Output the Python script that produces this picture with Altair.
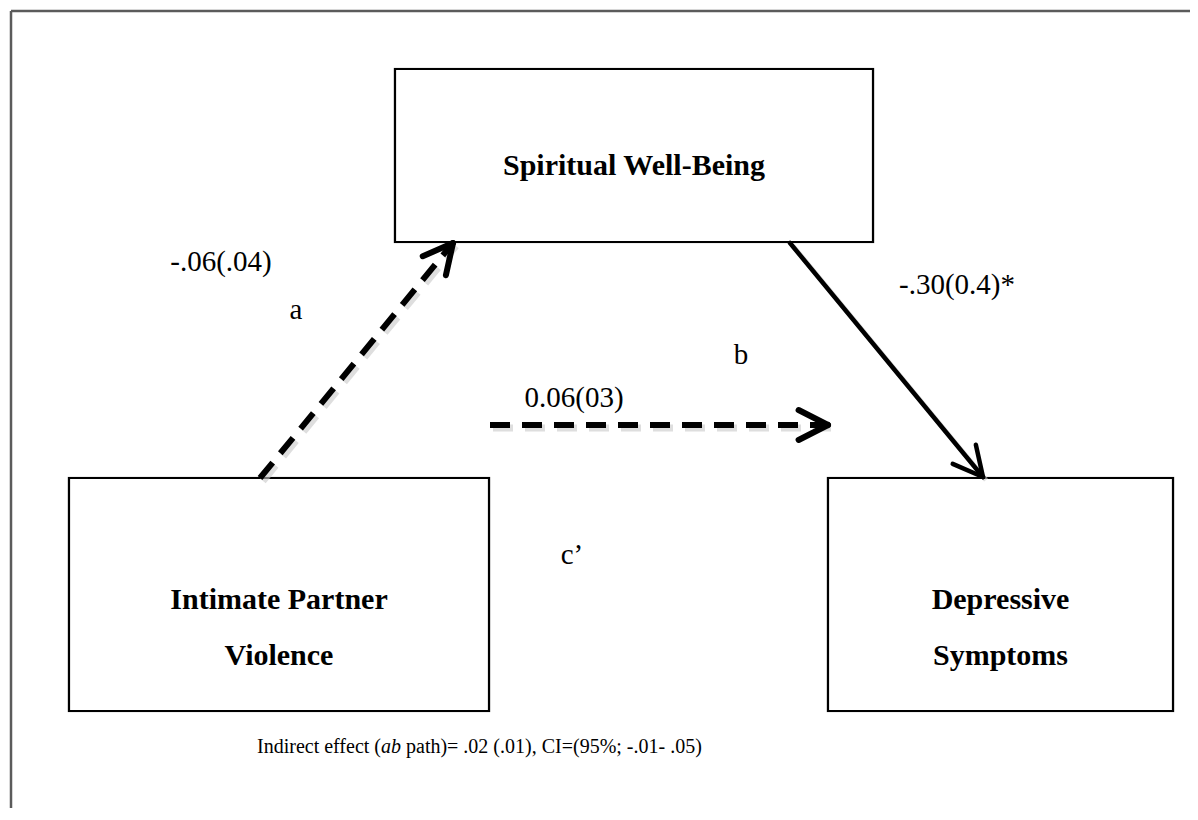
import math
import altair as alt
import pandas as pd

# ---------------- data ----------------
node_labels = ["Spiritual Well-Being", "Intimate Partner\nViolence", "Depressive\nSymptoms"]
path_names = ["a", "b", "c\u2019"]
path_coefs = ["-.06(.04)", "-.30(0.4)*", "0.06(03)"]
path_dashed = [True, False, True]
caption_parts = ["Indirect effect (", "ab", "path)= .02 (.01), CI=(95%; -.01- .05)"]

# ---------------- layout (pixel space of the figure) ----------------
W, H = 1182, 800
X0, Y0 = 8, 8
box_x = [395, 69, 828]
box_x2 = [873, 489, 1173]
box_y = [69, 478, 478]
box_y2 = [242, 711, 711]
label_y = [166, 600, 600]

arrow_from = [(260, 478), (790, 243), (490, 425)]
arrow_to = [(453, 243), (983, 477), (828, 425)]
coef_pos = [(221, 262), (957, 285), (574, 398)]
name_pos = [(296, 310), (741, 355), (572, 555)]

xs = alt.Scale(domain=[X0, X0 + W], nice=False, zero=False)
ys = alt.Scale(domain=[Y0, Y0 + H], nice=False, zero=False, reverse=True)


def X(f):
    return alt.X(f, type="quantitative", scale=xs, axis=None)


def Y(f):
    return alt.Y(f, type="quantitative", scale=ys, axis=None)


def X2(f):
    return alt.X2(f)


def Y2(f):
    return alt.Y2(f)


# frame
frame = pd.DataFrame({"x": [11, 11], "y": [11, 11], "x2": [X0 + W, 11], "y2": [11, Y0 + H]})
frame_layer = alt.Chart(frame).mark_rule(color="#5b5b5b", strokeWidth=2.5).encode(
    x=X("x"), y=Y("y"), x2=X2("x2"), y2=Y2("y2"))

# boxes
boxes = pd.DataFrame({"x": box_x, "x2": box_x2, "y": box_y, "y2": box_y2})
box_shadow = alt.Chart(boxes).mark_rect(fill="none", stroke="#bdbdbd", strokeWidth=2.5).encode(
    x=X("x"), x2=X2("x2"), y=Y("y"), y2=Y2("y2"))
box_layer = alt.Chart(boxes).mark_rect(fill="white", stroke="black", strokeWidth=2.2).encode(
    x=X("x"), x2=X2("x2"), y=Y("y"), y2=Y2("y2"))

nodes = pd.DataFrame({
    "x": [(a + b) / 2 for a, b in zip(box_x, box_x2)],
    "y": label_y,
    "label": node_labels,
})
node_text = alt.Chart(nodes).mark_text(
    font="Liberation Serif", fontWeight="bold", fontSize=30, lineBreak="\n",
    lineHeight=56, align="center", baseline="middle", color="black").encode(
    x=X("x"), y=Y("y"), text="label:N")

# arrows
shaft_rows, head_rows = [], []
for (x0, y0), (x1, y1), dashed in zip(arrow_from, arrow_to, path_dashed):
    shaft_rows.append({"x": x0, "y": y0, "x2": x1, "y2": y1, "dashed": dashed})
    dx, dy = x1 - x0, y1 - y0
    n = math.hypot(dx, dy)
    bx, by = -dx / n, -dy / n
    for s in (1, -1):
        a = math.radians(27) * s
        rx = bx * math.cos(a) - by * math.sin(a)
        ry = bx * math.sin(a) + by * math.cos(a)
        head_rows.append({"x": x1, "y": y1, "x2": x1 + 33 * rx, "y2": y1 + 33 * ry,
                          "w": 6 if dashed else 4.5})
shafts = pd.DataFrame(shaft_rows)
heads = pd.DataFrame(head_rows)

shadow_shafts = shafts.copy()
for c in ["x", "x2", "y", "y2"]:
    shadow_shafts[c] = shadow_shafts[c] + 3

dash_shadow = alt.Chart(shadow_shafts[shadow_shafts.dashed]).mark_rule(
    color="#c8c8c8", strokeWidth=7, strokeDash=[20, 12], opacity=0.6).encode(
    x=X("x"), y=Y("y"), x2=X2("x2"), y2=Y2("y2"))
solid_shadow = alt.Chart(shadow_shafts[~shadow_shafts.dashed]).mark_rule(
    color="#c8c8c8", strokeWidth=5, opacity=0.6).encode(
    x=X("x"), y=Y("y"), x2=X2("x2"), y2=Y2("y2"))

dash_layer = alt.Chart(shafts[shafts.dashed]).mark_rule(
    color="black", strokeWidth=6, strokeDash=[20, 12]).encode(
    x=X("x"), y=Y("y"), x2=X2("x2"), y2=Y2("y2"))
solid_layer = alt.Chart(shafts[~shafts.dashed]).mark_rule(
    color="black", strokeWidth=4.5, strokeCap="round").encode(
    x=X("x"), y=Y("y"), x2=X2("x2"), y2=Y2("y2"))
head_layer = alt.Chart(heads).mark_rule(color="black", strokeCap="round").encode(
    x=X("x"), y=Y("y"), x2=X2("x2"), y2=Y2("y2"),
    strokeWidth=alt.StrokeWidth("w:Q", scale=None))

# path labels
plabels = pd.DataFrame({
    "x": [p[0] for p in coef_pos] + [p[0] for p in name_pos],
    "y": [p[1] for p in coef_pos] + [p[1] for p in name_pos],
    "t": path_coefs + path_names,
})
plabel_layer = alt.Chart(plabels).mark_text(
    font="Liberation Serif", fontSize=29, align="center", baseline="middle", color="black").encode(
    x=X("x"), y=Y("y"), text="t:N")

# caption
cap_left = 257
cap_y = 747
ab_left = cap_left + 124
cap = pd.DataFrame({"x": [ab_left, ab_left, ab_left + 25], "y": [cap_y] * 3,
                    "t": caption_parts})
cap1 = alt.Chart(cap.iloc[[0]]).mark_text(
    font="Liberation Serif", fontSize=20, align="right", baseline="middle", color="black").encode(
    x=X("x"), y=Y("y"), text="t:N")
cap2 = alt.Chart(cap.iloc[[1]]).mark_text(
    font="Liberation Serif", fontSize=20, fontStyle="italic", align="left", baseline="middle",
    color="black").encode(x=X("x"), y=Y("y"), text="t:N")
cap3 = alt.Chart(cap.iloc[[2]]).mark_text(
    font="Liberation Serif", fontSize=20, align="left", baseline="middle", color="black").encode(
    x=X("x"), y=Y("y"), text="t:N")

chart = alt.layer(
    frame_layer, box_shadow, box_layer, node_text,
    dash_shadow, solid_shadow, dash_layer, solid_layer, head_layer,
    plabel_layer, cap1, cap2, cap3,
).properties(
    width=W, height=H, padding=0, autosize=alt.AutoSizeParams(type="none")
).configure_view(stroke=None)

chart.save("out.html", embed_options={"renderer": "svg", "actions": False})
